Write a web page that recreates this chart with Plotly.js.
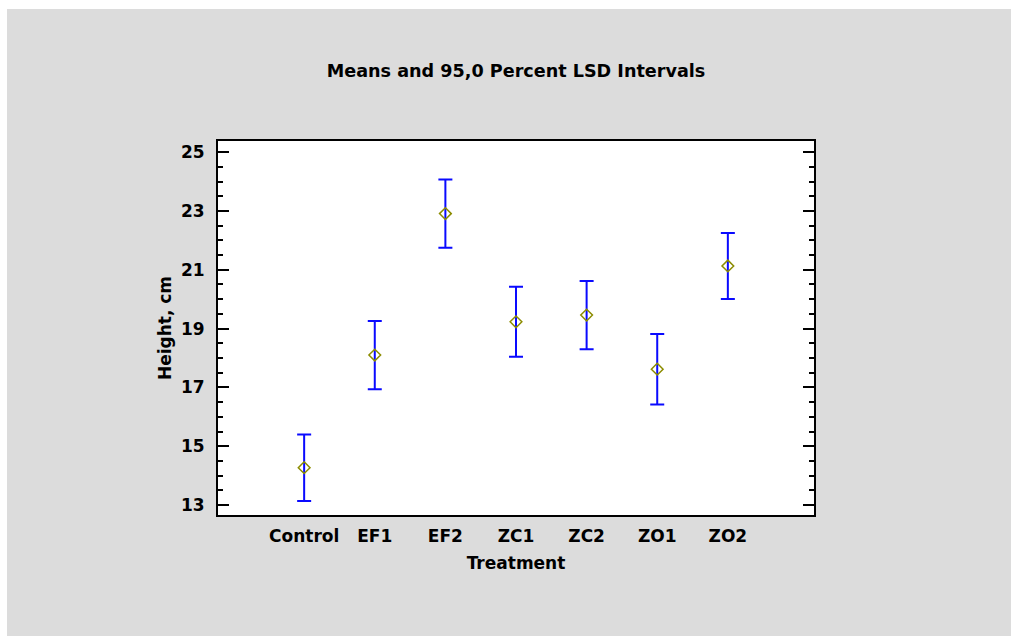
<!DOCTYPE html>
<html>
<head>
<meta charset="utf-8">
<script src="https://cdn.plot.ly/plotly-3.0.1.min.js"></script>
<style>
  html, body { margin: 0; padding: 0; background: #ffffff; }
  #chart { position: absolute; left: 7px; top: 9px; width: 1004px; height: 627px; }
</style>
</head>
<body>
<div id="chart"></div>
<script>
const treatments = ["Control", "EF1", "EF2", "ZC1", "ZC2", "ZO1", "ZO2"];
const means = [14.27, 18.10, 22.91, 19.23, 19.46, 17.62, 21.13];
const lsdHalfWidths = [1.13, 1.16, 1.16, 1.19, 1.16, 1.20, 1.12];
const yTickVals = [13, 15, 17, 19, 21, 23, 25];

const fontFamily = "'DejaVu Sans', Arial, sans-serif";

const trace = {
  type: "scatter",
  mode: "markers",
  x: treatments.map((_, i) => i),
  y: means,
  marker: { symbol: "diamond-open", size: 9, color: "#8c8c00", line: { width: 1.5, color: "#8c8c00" } },
  error_y: { type: "data", array: lsdHalfWidths, visible: true, color: "#0a0aff", thickness: 2, width: 7 },
  hoverinfo: "x+y"
};

const layout = {
  width: 1004,
  height: 627,
  paper_bgcolor: "#dcdcdc",
  plot_bgcolor: "#ffffff",
  margin: { l: 211, r: 197, t: 132, b: 121 },
  showlegend: false,
  font: { family: fontFamily, color: "#000000" },
  title: {
    text: "<b>Means and 95,0 Percent LSD Intervals</b>",
    font: { family: fontFamily, size: 17.6, color: "#000000" },
    xref: "paper", x: 0.5, xanchor: "center",
    yref: "container", y: 0.901, yanchor: "middle"
  },
  xaxis: {
    range: [-1.22, 7.22],
    tickmode: "array",
    tickvals: treatments.map((_, i) => i),
    ticktext: treatments.map(t => "<b>" + t + "</b>"),
    ticks: "",
    showgrid: false,
    zeroline: false,
    showline: true,
    linecolor: "#000000",
    linewidth: 2,
    mirror: true,
    tickfont: { family: fontFamily, size: 17, color: "#000000" },
    ticklabelstandoff: 5,
    title: { text: "<b>Treatment</b>", font: { family: fontFamily, size: 17, color: "#000000" }, standoff: 12 },
    automargin: false
  },
  yaxis: {
    range: [12.66, 25.38],
    tickmode: "array",
    tickvals: yTickVals,
    ticktext: yTickVals.map(v => "<b>" + v + "</b>"),
    ticks: "inside",
    ticklen: 11,
    tickwidth: 2,
    tickcolor: "#000000",
    minor: { dtick: 0.5, tick0: 13, ticks: "inside", ticklen: 5, tickwidth: 2, tickcolor: "#000000", showgrid: false },
    showgrid: false,
    zeroline: false,
    showline: true,
    linecolor: "#000000",
    linewidth: 2,
    mirror: "ticks",
    tickfont: { family: fontFamily, size: 17, color: "#000000" },
    ticklabelstandoff: 8,
    title: { text: "<b>Height, cm</b>", font: { family: fontFamily, size: 17, color: "#000000" }, standoff: 5 },
    automargin: false
  }
};

Plotly.newPlot("chart", [trace], layout, { displayModeBar: false, staticPlot: false });
</script>
</body>
</html>
